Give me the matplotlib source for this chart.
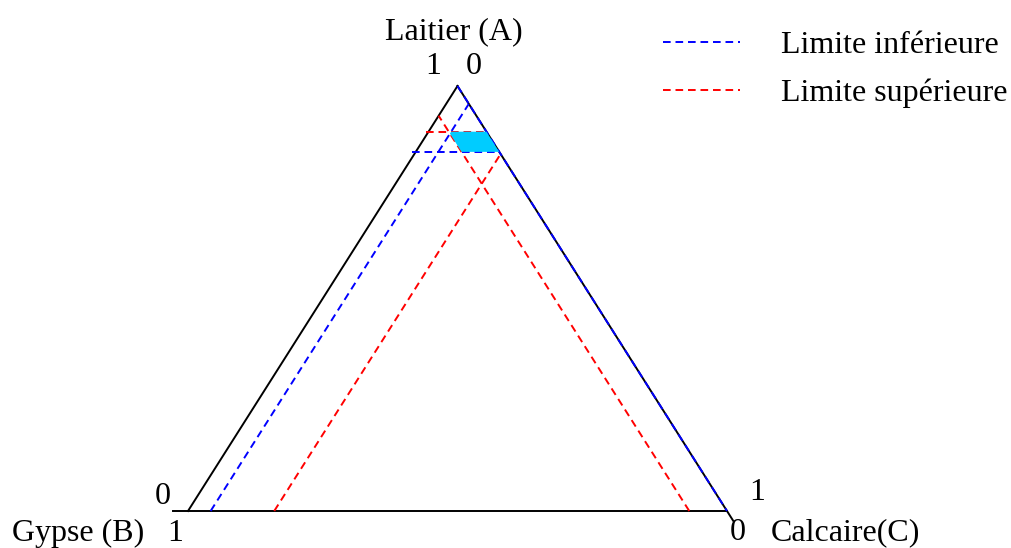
import numpy as np
import matplotlib.pyplot as plt

plt.rcParams['font.family'] = ['Liberation Serif', 'DejaVu Serif']
plt.rcParams['lines.scale_dashes'] = False

# limites des fractions : A = laitier, B = gypse, C = calcaire
A_min, A_max = 0.845, 0.8925
B_min, B_max = 0.0, 0.07
C_min, C_max = 0.042, 0.16

labels_sommets = ['Laitier (A)', 'Gypse (B)', 'Calcaire(C)']
labels_legende = ['Limite inférieure', 'Limite supérieure']


def tern(a, b, c):
    # ternaire -> cartésien (B en bas à gauche, C en bas à droite, A en haut)
    a, b, c = np.asarray(a, float), np.asarray(b, float), np.asarray(c, float)
    s = a + b + c
    return (c + a / 2) / s, a / s


def clip(poly, f):
    out = []
    n = len(poly)
    for i in range(n):
        p, q = poly[i], poly[(i + 1) % n]
        fp, fq = f(p), f(q)
        if fp >= 0:
            out.append(p)
        if fp * fq < 0:
            t = fp / (fp - fq)
            out.append(p + t * (q - p))
    return out


fig = plt.figure(figsize=(10.12, 5.48), dpi=100)
ax = fig.add_axes([0, 0, 1, 1])
ax.set_xlim(-188 / 539, (1012 - 188) / 539)
ax.set_ylim(-37 / 425, 511 / 425)
ax.axis('off')

lw = 1.4
dash = (0, (5.5, 3.5))

# côtés du triangle
ax.plot(*tern([0, 1], [1, 0], [0, 0]), color='black', lw=lw, zorder=1)
ax.plot(*tern([1, -0.023], [0, 0], [0, 1.023]), color='black', lw=lw, zorder=1)
ax.plot(*tern([0, 0], [1.028, 0], [-0.028, 1]), color='black', lw=lw, zorder=1)

# limites inférieures (bleu)
ax.plot(*tern([1, 0], [0, 0], [0, 1]), color='blue', lw=lw, ls=dash, zorder=2,
        label=labels_legende[0])
ax.plot(*tern([A_min, A_min], [1 - A_min + 0.006, 0], [-0.006, 1 - A_min]),
        color='blue', lw=lw, ls=dash, zorder=2)
ax.plot(*tern([0, 1 - C_min], [1 - C_min, 0], [C_min, C_min]),
        color='blue', lw=lw, ls=dash, zorder=2)

# limites supérieures (rouge)
ax.plot(*tern([A_max, A_max], [1 - A_max + 0.004, 0], [-0.004, 1 - A_max]),
        color='red', lw=lw, ls=dash, zorder=2, label=labels_legende[1])
ax.plot(*tern([0, 1 - C_max], [1 - C_max, 0], [C_max, C_max]),
        color='red', lw=lw, ls=dash, zorder=2)
ax.plot(*tern([0, 1 - B_max], [B_max, B_max], [1 - B_max, 0]),
        color='red', lw=lw, ls=dash, zorder=2)

# domaine admissible
poly = [np.array(p, float) for p in [(1, 0, 0), (0, 1, 0), (0, 0, 1)]]
for f in [lambda p: p[0] - A_min, lambda p: A_max - p[0],
          lambda p: p[1] - B_min, lambda p: B_max - p[1],
          lambda p: p[2] - C_min, lambda p: C_max - p[2]]:
    poly = clip(poly, f)
poly = np.array(poly)
ax.fill(*tern(poly[:, 0], poly[:, 1], poly[:, 2]), facecolor='#00CCFF',
        edgecolor='none', zorder=3)

fs = 23
ax.text(0.4935, 1.128, labels_sommets[0], ha='center', va='center', fontsize=fs)
ax.text(0.4545, 1.045, '1', ha='center', va='center', fontsize=fs)
ax.text(0.5306, 1.045, '0', ha='center', va='center', fontsize=fs)
ax.text(-0.0464, 0.033, '0', ha='center', va='center', fontsize=fs)
ax.text(-0.2041, -0.052, labels_sommets[1], ha='center', va='center', fontsize=fs)
ax.text(-0.0241, -0.052, '1', ha='center', va='center', fontsize=fs)
ax.text(1.0557, 0.043, '1', ha='center', va='center', fontsize=fs)
ax.text(1.0204, -0.050, '0', ha='center', va='center', fontsize=fs)
ax.text(1.2189, -0.050, labels_sommets[2], ha='center', va='center', fontsize=fs)

ax.legend(loc='upper left', bbox_to_anchor=(663 / 1012, 1 - 31 / 548),
          bbox_transform=fig.transFigure, frameon=False, fontsize=fs,
          handlelength=2.4, handletextpad=1.3, labelspacing=0.56,
          borderpad=0, borderaxespad=0)

fig.savefig('out.png', dpi=100)
